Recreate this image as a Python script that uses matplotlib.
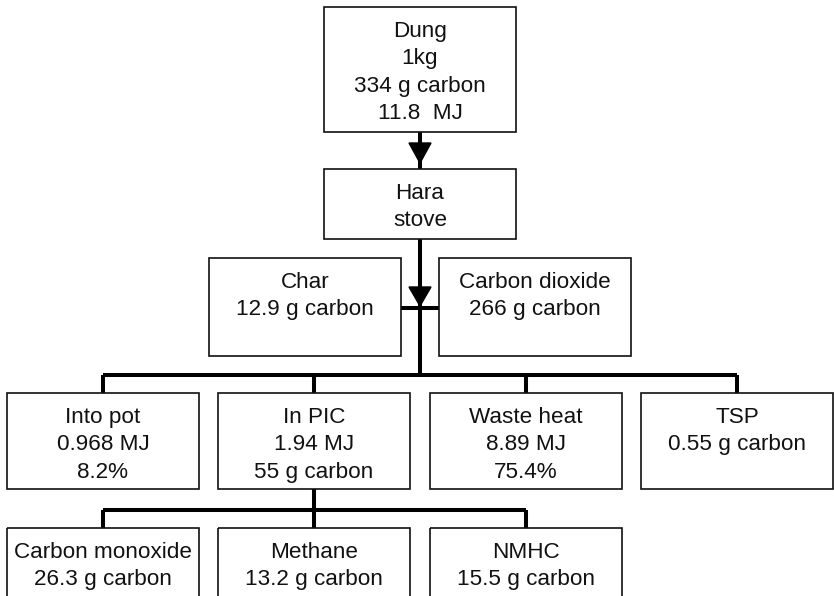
import matplotlib.pyplot as plt
from matplotlib.patches import Rectangle

plt.rcParams['font.family'] = ['Liberation Sans', 'DejaVu Sans']

# box texts, one list per row of the diagram
top_labels = [["Dung", "1kg", "334 g carbon", "11.8  MJ"]]
stove_labels = [["Hara", "stove"]]
side_labels = [["Char", "12.9 g carbon"], ["Carbon dioxide", "266 g carbon"]]
out_labels = [["Into pot", "0.968 MJ", "8.2%"],
              ["In PIC", "1.94 MJ", "55 g carbon"],
              ["Waste heat", "8.89 MJ", "75.4%"],
              ["TSP", "0.55 g carbon"]]
pic_labels = [["Carbon monoxide", "26.3 g carbon"],
              ["Methane", "13.2 g carbon"],
              ["NMHC", "15.5 g carbon"]]

W, H = 834, 596
fig = plt.figure(figsize=(W/100, H/100), dpi=100)
ax = fig.add_axes([0, 0, 1, 1])
ax.set_xlim(0, W)
ax.set_ylim(H, 0)
ax.axis('off')

BW = 192
LW = 2.9


def box(x, y, h, lines):
    ax.add_patch(Rectangle((x, y), BW, h, fill=False, ec='#111111', lw=1.2, zorder=3))
    for i, s in enumerate(lines):
        ax.text(x + BW/2, y + 30 + i*27.3, s, ha='center', va='baseline',
                fontsize=16.2, color='#111111', zorder=4)


def line(xs, ys):
    ax.plot(xs, ys, color='black', lw=LW, solid_capstyle='butt', zorder=2)


def head(x, y0, y1):
    ax.fill([x - 11, x + 11, x], [y0, y0, y1], color='black', zorder=2)


cx = 420
# top chain
box(324, 7, 125, top_labels[0])
line([cx, cx], [132, 169])
head(cx, 143, 163)
box(324, 169, 70, stove_labels[0])
line([cx, cx], [239, 375])
head(cx, 287, 306)

# char / co2 side boxes
box(209, 258, 98, side_labels[0])
box(439, 258, 98, side_labels[1])
line([401, 439], [308, 308])

# outputs row
out_x = [7, 218, 430, 641]
line([out_x[0] + BW/2, out_x[-1] + BW/2], [375, 375])
for x, lab in zip(out_x, out_labels):
    line([x + BW/2, x + BW/2], [375, 393])
    box(x, 393, 96, lab)

# PIC breakdown row
pic_x = [7, 218, 430]
pic_c = out_x[1] + BW/2
line([pic_c, pic_c], [489, 510])
line([pic_x[0] + BW/2, pic_x[-1] + BW/2], [510, 510])
for x, lab in zip(pic_x, pic_labels):
    line([x + BW/2, x + BW/2], [510, 528])
    box(x, 528, 90, lab)

fig.savefig('out.png', dpi=100)
